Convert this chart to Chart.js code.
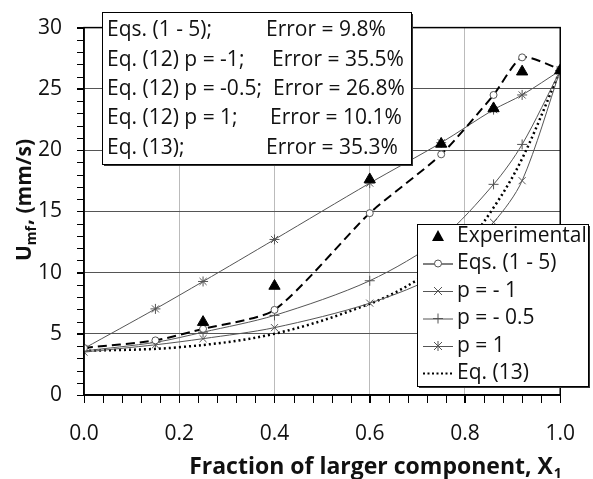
<!DOCTYPE html>
<html>
<head>
<meta charset="utf-8">
<script src="https://cdn.jsdelivr.net/npm/chart.js@4.4.1/dist/chart.umd.min.js"></script>
<style>
body{margin:0;background:#fff}
canvas{display:block}
</style>
</head>
<body>
<canvas id="graph" width="593" height="479"></canvas>
<script>
// x positions of the model points and the measured points
const xModel=[0,0.15,0.25,0.4,0.6,0.75,0.86,0.92,1.0]
const xExp=[0.25,0.4,0.6,0.75,0.86,0.92,1.0]
const uExp=[5.95,8.9,17.6,20.5,23.4,26.4,26.5]
const uEqs15=[3.84,4.46,5.4,6.95,14.85,19.65,24.5,27.57,26.6]
const uPm1=[3.5,4.1,4.6,5.5,7.5,10.0,14.1,17.5,26.5]
const uPm05=[3.6,4.3,5.13,6.5,9.33,12.8,17.2,20.46,26.5]
const uP1=[3.8,7.03,9.27,12.7,17.3,20.6,23.3,24.5,26.5]
const xEq13=[0,0.2,0.4,0.6,0.7,0.8,0.86,0.92,1.0]
const uEq13=[3.6,3.9,5.0,7.45,9.4,12.3,15.3,19.3,26.5]

const legendNames=["Experimental","Eqs. (1 - 5)","p = - 1","p = - 0.5","p = 1","Eq. (13)"]
const errNames=["Eqs. (1 - 5);","Eq. (12) p = -1;","Eq. (12) p = -0.5;","Eq. (12) p = 1;","Eq. (13);"]
const errValues=["Error = 9.8%","Error = 35.5%","Error = 26.8%","Error = 10.1%","Error = 35.3%"]
const errCol=[266,272,273,270,266]

const FONT="'Open Sans', sans-serif"
const grey="#555"

Chart.defaults.font.family=FONT
Chart.defaults.color="#111"

function pts(xs,ys){return xs.map((x,i)=>({x:x,y:ys[i]}))}

function mark(c,style,x,y){
c.save()
c.strokeStyle=grey
c.fillStyle="#000"
c.lineWidth=1
c.beginPath()
if(style=="triangle"){
c.moveTo(x,y-6);c.lineTo(x+6,y+5);c.lineTo(x-6,y+5);c.closePath();c.fill()
}else if(style=="circle"){
c.fillStyle="#fff";c.arc(x,y,3.5,0,Math.PI*2);c.fill();c.stroke()
}else if(style=="crossRot"){
c.moveTo(x-4,y-4);c.lineTo(x+4,y+4);c.moveTo(x+4,y-4);c.lineTo(x-4,y+4);c.stroke()
}else if(style=="cross"){
c.moveTo(x,y-5);c.lineTo(x,y+5);c.moveTo(x-5,y);c.lineTo(x+5,y);c.stroke()
}else if(style=="star"){
c.moveTo(x,y-5);c.lineTo(x,y+5);c.moveTo(x-4,y-4);c.lineTo(x+4,y+4);c.moveTo(x+4,y-4);c.lineTo(x-4,y+4);c.stroke()
}
c.restore()
}

function box(c,x,y,w,h){
c.fillStyle="#333"
c.fillRect(x+2,y+2,w,h)
c.fillStyle="#fff"
c.fillRect(x,y,w,h)
c.strokeStyle="#000"
c.lineWidth=1
c.strokeRect(x+0.5,y+0.5,w,h)
}

let extras={
id:"extras",
afterDraw(chart){
let c=chart.ctx
let a=chart.chartArea
let sx=chart.scales.x
let sy=chart.scales.y
c.save()

// frame and minor ticks
c.strokeStyle="#000"
c.lineWidth=1.5
c.strokeRect(a.left,a.top,a.right-a.left,a.bottom-a.top)
c.lineWidth=1
c.beginPath()
for(let v=0;v<=30;v++){
let py=Math.round(sy.getPixelForValue(v))+0.5
c.moveTo(a.left-7,py);c.lineTo(a.left,py)
}
for(let i=0;i<=25;i++){
let px=Math.round(sx.getPixelForValue(i*0.04))+0.5
c.moveTo(px,a.bottom);c.lineTo(px,a.bottom+8)
}
c.stroke()

// axis titles
c.fillStyle="#111"
c.textBaseline="alphabetic"
c.font="bold 23px "+FONT
let t1="Fraction of larger component, X"
let w1=c.measureText(t1).width
c.font="bold 14px "+FONT
let w2=c.measureText("1").width
let x0=375-(w1+w2)/2
c.font="bold 23px "+FONT
c.fillText(t1,x0,474)
c.font="bold 14px "+FONT
c.fillText("1",x0+w1+1,478)

c.save()
c.translate(31,200)
c.rotate(-Math.PI/2)
c.font="bold 21px "+FONT
let wu=c.measureText("U").width
let wr=c.measureText(", (mm/s)").width
c.font="bold 14px "+FONT
let wm=c.measureText("mf").width
let s=-(wu+wm+wr+1)/2
c.font="bold 21px "+FONT
c.fillText("U",s,0)
c.font="bold 14px "+FONT
c.fillText("mf",s+wu,5)
c.font="bold 21px "+FONT
c.fillText(", (mm/s)",s+wu+wm+1,0)
c.restore()

// error box
box(c,102,12,309,152)
c.fillStyle="#111"
c.font="21px "+FONT
c.textBaseline="middle"
let rowY=[30,60,89,118,148]
for(let i=0;i<errNames.length;i++){
c.fillText(errNames[i],107,rowY[i])
c.fillText(errValues[i],errCol[i],rowY[i])
}

// legend
box(c,417,224,171,162)
let styles=["triangle","circle","crossRot","cross","star","dots"]
let legY=[236,263.5,291,318.5,346,373]
for(let i=0;i<legendNames.length;i++){
let y=legY[i]
c.save()
if(i==1){c.strokeStyle="#000";c.lineWidth=1}
else if(i>1&&i<5){c.strokeStyle=grey;c.lineWidth=1}
if(i==5){c.strokeStyle="#000";c.lineWidth=2;c.setLineDash([2,2.5])}
if(i>0){c.beginPath();c.moveTo(423,y+0.5);c.lineTo(453,y+0.5);c.stroke()}
c.restore()
if(i<5)mark(c,styles[i],438,y)
c.fillStyle="#111"
c.fillText(legendNames[i],457,y)
}
c.restore()
}
}

let chart=new Chart(document.getElementById("graph").getContext("2d"),{
type:"scatter",
data:{
datasets:[
{label:legendNames[0],data:pts(xExp,uExp),showLine:false,pointStyle:"triangle",pointRadius:6.5,backgroundColor:"#000",borderColor:"#000",borderWidth:1},
{label:legendNames[1],data:pts(xModel,uEqs15),showLine:true,tension:0.22,borderColor:"#000",borderWidth:2,borderDash:[9,5],pointStyle:"circle",pointRadius:3.5,pointBackgroundColor:"#fff",pointBorderColor:grey,pointBorderWidth:1},
{label:legendNames[2],data:pts(xModel,uPm1),showLine:true,tension:0.3,borderColor:grey,borderWidth:1,pointStyle:"crossRot",pointRadius:5,pointBorderColor:grey,pointBorderWidth:1},
{label:legendNames[3],data:pts(xModel,uPm05),showLine:true,tension:0.3,borderColor:grey,borderWidth:1,pointStyle:"cross",pointRadius:5,pointBorderColor:grey,pointBorderWidth:1},
{label:legendNames[4],data:pts(xModel,uP1),showLine:true,tension:0.3,borderColor:grey,borderWidth:1,pointStyle:"star",pointRadius:5,pointBorderColor:grey,pointBorderWidth:1},
{label:legendNames[5],data:pts(xEq13,uEq13),showLine:true,tension:0.35,borderColor:"#000",borderWidth:2.5,borderDash:[2,3],pointRadius:0}
]
},
options:{
responsive:false,
devicePixelRatio:1,
animation:false,
layout:{padding:{left:0,right:26,top:25,bottom:0}},
plugins:{legend:{display:false},tooltip:{enabled:false}},
scales:{
x:{
type:"linear",min:0,max:1,
afterFit(s){s.height=84},
afterBuildTicks(s){s.ticks=[0,0.2,0.4,0.6,0.8,1.0].map(v=>({value:v}))},
ticks:{callback:v=>v.toFixed(1),padding:18,font:{size:21},color:"#111",maxRotation:0},
grid:{color:"#bbb",tickColor:"#000",tickLength:8},
border:{color:"#000",width:1.5}
},
y:{
min:0,max:30,
afterFit(s){s.width=84},
afterBuildTicks(s){s.ticks=[0,5,10,15,20,25,30].map(v=>({value:v}))},
ticks:{padding:15,font:{size:21},color:"#111"},
grid:{color:"#555",tickColor:"#000",tickLength:7},
border:{color:"#000",width:1.5}
}
}
},
plugins:[extras]
})
</script>
</body>
</html>
